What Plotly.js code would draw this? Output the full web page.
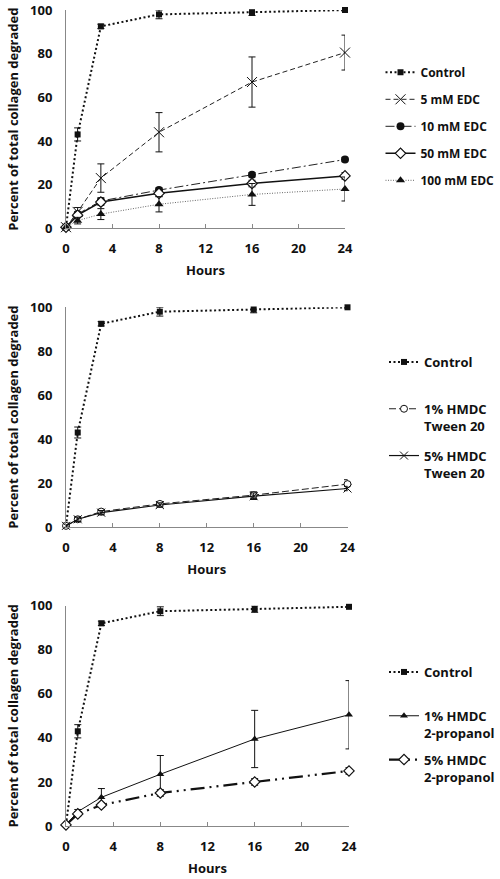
<!DOCTYPE html>
<html><head><meta charset="utf-8">
<script src="https://cdn.plot.ly/plotly-3.0.1.min.js"></script>
<style>html,body{margin:0;padding:0;background:#fff}#chart{width:500px;height:879px}</style>
</head><body><div id="chart"></div>
<script>
// ---- data ----
const hours = [0, 1, 3, 8, 16, 24];
const xTicks = [0, 4, 8, 12, 16, 20, 24];
const yTicks = [0, 20, 40, 60, 80, 100];

// Panel A: EDC
const ctrlA = [0.5, 43, 92.5, 98, 99, 100];
const ctrlAErr = [0.5, 3, 1, 2, 1.5, 0.5];
const edc5 = [0.5, 7.5, 23, 44, 67, 80.5];
const edc5Err = [0.5, 2, 6.5, 9, 11.5, 8];
const edc10 = [0.5, 6.5, 12.5, 17.5, 24.5, 31.5];
const edc10Err = [0.5, 1, 1.5, 1, 1, 1];
const edc50 = [0.5, 6, 12, 16, 20.5, 24];
const edc50Err = [0.5, 1, 1.5, 1.5, 1.5, 1.5];
const edc100 = [0.5, 3.5, 6.5, 11, 15.5, 18];
const edc100Err = [0.5, 1.5, 2.5, 3.5, 5, 5.5];

// Panel B: HMDC Tween 20
const ctrlB = [0.5, 43, 92.5, 98, 99, 100];
const ctrlBErr = [0.5, 2.5, 1, 2, 1.5, 0.3];
const tw1 = [0.5, 3.5, 7, 10.5, 14.5, 19.5];
const tw1Err = [0.5, 1, 1, 1, 1.5, 2];
const tw5 = [0.5, 3.5, 6.5, 10, 14, 17.5];
const tw5Err = [0.5, 1, 1, 1, 1.5, 1];

// Panel C: HMDC 2-propanol
const ctrlC = [0.5, 43, 92, 97.5, 98.5, 99.5];
const ctrlCErr = [0.5, 3, 1, 2, 1.5, 0.3];
const pr1 = [0.5, 6.5, 13, 23.5, 39.5, 50.5];
const pr1Err = [0.5, 1, 4, 8.5, 13, 15.5];
const pr5 = [0.5, 5.5, 9.5, 15, 20, 25];
const pr5Err = [0.5, 1, 1, 1.5, 1.5, 1.5];

const yTitle = 'Percent of total collagen degraded';
const xTitle = 'Hours';

// ---- styling helpers ----
const FONT = 'Open Sans, Liberation Sans, sans-serif';
const bold = (s) => ({family: FONT, size: s, color: '#111', weight: 700});

function tr(name, y, err, ax, leg, lineOpt, markerOpt, grp) {
  return {
    type: 'scatter', mode: 'lines+markers', name: name,
    x: hours, y: y,
    xaxis: 'x' + ax, yaxis: 'y' + ax, legend: leg, legendgroup: grp,
    line: lineOpt, marker: markerOpt, cliponaxis: false,
    error_y: {type: 'data', array: err, visible: true, color: '#111', thickness: 1, width: 3.5}
  };
}
const ctrlLine = {color: '#111', width: 2, dash: '2px,2.5px'};
const ctrlMarker = {symbol: 'square', size: 6, color: '#111'};

const data = [
  tr('Control', ctrlA, ctrlAErr, '', 'legend', ctrlLine, ctrlMarker, 'a1'),
  tr('5 mM EDC', edc5, edc5Err, '', 'legend', {color: '#222', width: 1, dash: '5px,3px'},
     {symbol: 'x-thin-open', size: 10, color: '#111', line: {color: '#111', width: 1}}, 'a2'),
  tr('10 mM EDC', edc10, edc10Err, '', 'legend', {color: '#222', width: 1, dash: '9px,3px,2px,3px'},
     {symbol: 'circle', size: 8, color: '#111'}, 'a3'),
  tr('50 mM EDC', edc50, edc50Err, '', 'legend', {color: '#111', width: 1.5},
     {symbol: 'diamond', size: 8, color: '#fff', line: {color: '#111', width: 1.2}}, 'a4'),
  tr('100 mM EDC', edc100, edc100Err, '', 'legend', {color: '#666', width: 1, dash: '1px,1.5px'},
     {symbol: 'triangle-up', size: 8, color: '#111'}, 'a5'),

  tr('Control<br> ', ctrlB, ctrlBErr, '2', 'legend2', ctrlLine, ctrlMarker, 'b1'),
  tr('1% HMDC<br>Tween 20', tw1, tw1Err, '2', 'legend2', {color: '#222', width: 1, dash: '7px,3px'},
     {symbol: 'circle', size: 7, color: '#fff', line: {color: '#111', width: 1}}, 'b2'),
  tr('5% HMDC<br>Tween 20', tw5, tw5Err, '2', 'legend2', {color: '#111', width: 1.2},
     {symbol: 'x-thin-open', size: 8, color: '#111', line: {color: '#111', width: 1}}, 'b3'),

  tr('Control<br> ', ctrlC, ctrlCErr, '3', 'legend3', ctrlLine, ctrlMarker, 'c1'),
  tr('1% HMDC<br>2-propanol', pr1, pr1Err, '3', 'legend3', {color: '#111', width: 1},
     {symbol: 'triangle-up', size: 7, color: '#111'}, 'c2'),
  tr('5% HMDC<br>2-propanol', pr5, pr5Err, '3', 'legend3', {color: '#111', width: 2.2, dash: '14px,5px,2px,5px,2px,5px'},
     {symbol: 'diamond', size: 8, color: '#fff', line: {color: '#111', width: 1.2}}, 'c3'),
];

function xax(dom, anchor) {
  return {
    domain: dom, anchor: anchor, range: [0, 24], tickvals: xTicks, ticktext: xTicks.map(String),
    ticks: 'inside', ticklen: 4, tickcolor: '#888', showline: true, linecolor: '#888', linewidth: 1,
    showgrid: false, zeroline: false, tickfont: bold(13), ticklabelstandoff: 8,
    title: {text: xTitle, font: bold(13), standoff: 10}, automargin: false, fixedrange: true
  };
}
function yax(dom, anchor) {
  return {
    domain: dom, anchor: anchor, range: [0, 100], tickvals: yTicks, ticktext: yTicks.map(String),
    ticks: '', showline: true, linecolor: '#888', linewidth: 1,
    showgrid: false, zeroline: false, tickfont: bold(13), ticklabelstandoff: 10,
    title: {text: yTitle, font: bold(13), standoff: 8}, automargin: false, fixedrange: true
  };
}
function leg(x, xanchor, ypx, gap, fs) {
  return {x: x, xanchor: xanchor, y: 1 - ypx / 879, yanchor: 'top',
    font: bold(fs), bgcolor: 'rgba(0,0,0,0)', borderwidth: 0, valign: 'top',
    tracegroupgap: gap, itemclick: false, itemdoubleclick: false};
}

const layout = {
  width: 500, height: 879, margin: {l: 0, r: 0, t: 0, b: 0},
  paper_bgcolor: '#fff', plot_bgcolor: '#fff', showlegend: true,
  xaxis: xax([0.132, 0.690], 'y'),
  yaxis: yax([0.7403, 0.9886], 'x'),
  xaxis2: xax([0.132, 0.695], 'y2'),
  yaxis2: yax([0.4005, 0.6504], 'x2'),
  xaxis3: xax([0.132, 0.698], 'y3'),
  yaxis3: yax([0.0603, 0.3109], 'x3'),
  legend: leg(0.999, 'right', 58, 8, 12),
  legend2: leg(384 / 500, 'left', 347, 10, 13),
  legend3: leg(384 / 500, 'left', 657, 7, 13),
};

Plotly.newPlot('chart', data, layout, {staticPlot: true, displayModeBar: false});
</script></body></html>
